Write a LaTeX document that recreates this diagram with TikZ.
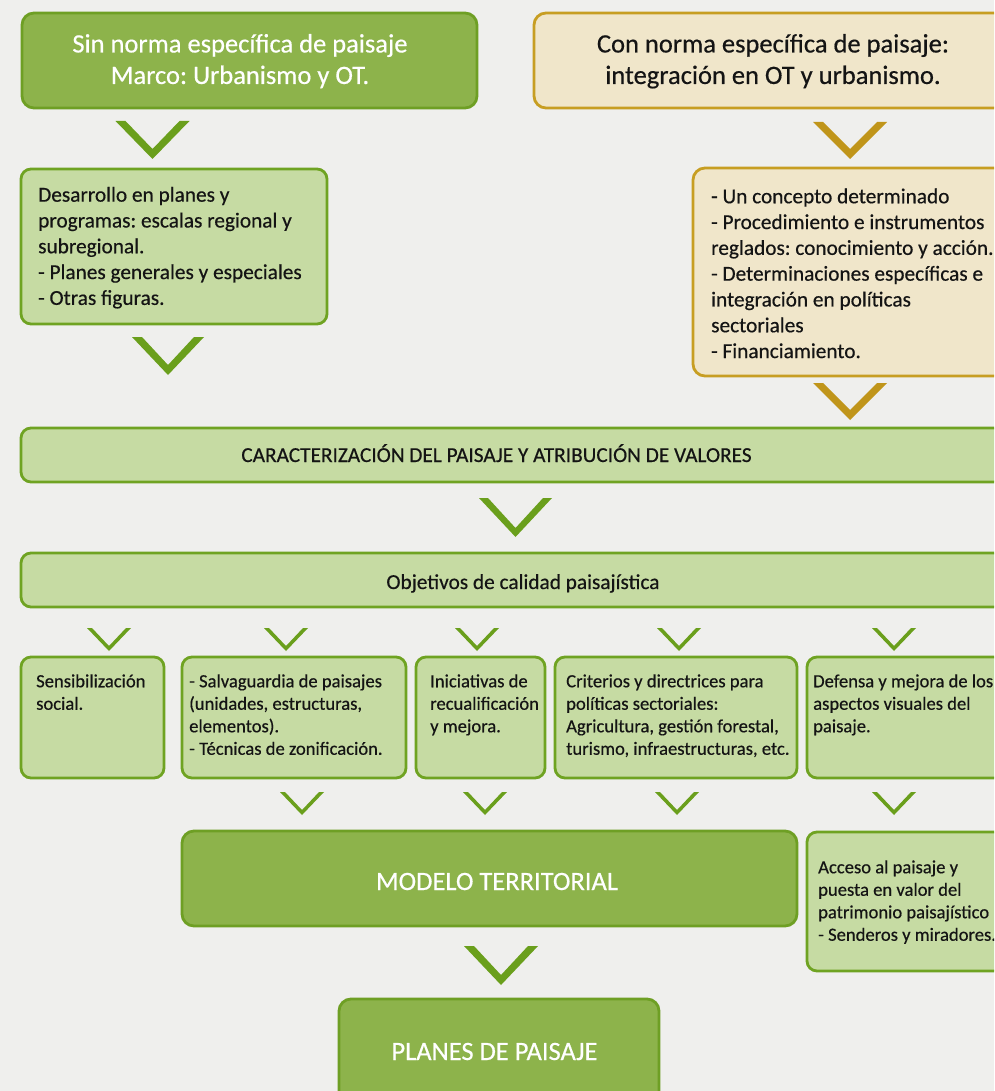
\documentclass[tikz,border=0pt]{standalone}
\usepackage{fontspec}
\setmainfont{Carlito}
\newfontfamily\heavy{Carlito}[FakeBold=0.45]
\usetikzlibrary{fit}
\definecolor{bg}{HTML}{EFEFED}
\definecolor{darkfill}{HTML}{8DB34B}
\definecolor{darkborder}{HTML}{6E9F24}
\definecolor{lightfill}{HTML}{C6DBA3}
\definecolor{lightborder}{HTML}{6FA322}
\definecolor{tanfill}{HTML}{F0E6CA}
\definecolor{tanborder}{HTML}{C79E22}
\definecolor{chevgreen}{HTML}{6A9F1C}
\definecolor{chevgold}{HTML}{C0951A}
\definecolor{textdark}{HTML}{141414}
\newcommand\chv[6]{%
  \fill[#6] ({#1-#3},{#2}) -- ({#1},{#2+#4}) -- ({#1+#3},{#2}) -- ({#1+#3-#5},{#2})
    -- ({#1},{#2+#4-#5}) -- ({#1-#3+#5},{#2}) -- cycle;}
\tikzset{
  box/.style={rounded corners=12pt, line width=2.8pt, inner sep=0pt},
  darkbox/.style={box, draw=darkborder, fill=darkfill},
  lightbox/.style={box, draw=lightborder, fill=lightfill, rounded corners=10pt},
  tanbox/.style={box, draw=tanborder, fill=tanfill},
  bigfont/.style={font={\heavy\frenchspacing\fontsize{26.5}{31.5}\selectfont}},
  midfont/.style={font={\heavy\frenchspacing\fontsize{21.3}{25.8}\selectfont}},
  smallfont/.style={font={\heavy\frenchspacing\fontsize{18.6}{22.5}\selectfont}},
  txt/.style={inner sep=0pt, text=textdark, align=left, anchor=north west},
  ctxt/.style={inner sep=0pt, anchor=base},
}
\begin{document}
\begin{tikzpicture}[x=1pt,y=-1pt]
\useasboundingbox (0,0) rectangle (994,1091);
\clip (0,0) rectangle (994,1091);
\fill[bg] (0,0) rectangle (994,1091);

% boxes
\node[darkbox, fit={(22,13) (477,108)}] (A) {};
\node[tanbox, fit={(534,13) (1015,108)}] (B) {};
\node[lightbox, fit={(21,169) (327,324)}] (C) {};
\node[tanbox, fit={(693,168) (1015,376)}] (D) {};
\node[lightbox, fit={(21,428) (1015,482)}] (E) {};
\node[lightbox, fit={(21,553) (1015,607)}] (F) {};
\node[lightbox, fit={(21,657) (164,778)}] (G1) {};
\node[lightbox, fit={(182,657) (406,778)}] (G2) {};
\node[lightbox, fit={(416,657) (545,778)}] (G3) {};
\node[lightbox, fit={(555,657) (797,778)}] (G4) {};
\node[lightbox, fit={(807,657) (1015,778)}] (G5) {};
\node[darkbox, fit={(182,831) (797,926)}] (H) {};
\node[lightbox, fit={(807,832) (1015,971)}] (I) {};
\node[darkbox, fit={(339,999) (659,1125)}] (J) {};

% texts
\node[bigfont, text=white, align=center, anchor=north, inner sep=0pt] (tA) at (240,30.2)
  {\strut Sin norma específica de paisaje\\Marco: Urbanismo y OT.};
\node[bigfont, text=textdark, align=center, anchor=north, inner sep=0pt] (tB) at (773,30.2)
  {\strut Con norma específica de paisaje:\\integración en OT y urbanismo.};
\node[midfont, txt] (tC) at (38,183.4)
  {\strut Desarrollo en planes y\\programas: escalas regional y\\subregional.\\- Planes generales y especiales\\- Otras figuras.};
\node[midfont, txt] (tD) at (711,185)
  {\strut - Un concepto determinado\\- Procedimiento e instrumentos\\reglados: conocimiento y acción.\\- Determinaciones específicas e\\integración en políticas\\sectoriales\\- Financiamiento.};
\node[midfont, ctxt, text=textdark] (tE) at (496.5,462)
  {CARACTERIZACIÓN DEL PAISAJE Y ATRIBUCIÓN DE VALORES};
\node[midfont, ctxt, text=textdark] (tF) at (523,589)
  {Objetivos de calidad paisajística};
\node[smallfont, txt] (tG1) at (36,671.3) {\strut Sensibilización\\social.};
\node[smallfont, txt] (tG2) at (189,671.3)
  {\strut - Salvaguardia de paisajes\\(unidades, estructuras,\\elementos).\\- Técnicas de zonificación.};
\node[smallfont, txt] (tG3) at (430,671.3) {\strut Iniciativas de\\recualificación\\y mejora.};
\node[smallfont, txt] (tG4) at (566,671.3)
  {\strut Criterios y directrices para\\políticas sectoriales:\\Agricultura, gestión forestal,\\turismo, infraestructuras, etc.};
\node[smallfont, txt] (tG5) at (813,671.3)
  {\strut Defensa y mejora de los\\aspectos visuales del\\paisaje.};
\node[bigfont, ctxt, text=white] (tH) at (497,890) {MODELO TERRITORIAL};
\node[smallfont, txt] (tI) at (818,857.3)
  {\strut Acceso al paisaje y\\puesta en valor del\\patrimonio paisajístico\\- Senderos y miradores.};
\node[bigfont, ctxt, text=white] (tJ) at (494.5,1060) {PLANES DE PAISAJE};

% chevrons
\chv{152.5}{121}{37}{38}{10}{chevgreen}
\chv{168}{337}{36}{38}{10}{chevgreen}
\chv{850}{122}{37}{37}{10}{chevgold}
\chv{850}{383}{37}{37}{10}{chevgold}
\chv{515.5}{498}{36.5}{39}{9}{chevgreen}
\foreach \cx in {109,286,477,679,894} {\chv{\cx}{628}{22}{23}{5}{chevgreen}}
\foreach \cx in {302,485,677,894} {\chv{\cx}{792}{22}{23}{5}{chevgreen}}
\chv{501}{946}{37}{39}{10}{chevgreen}
\end{tikzpicture}
\end{document}
